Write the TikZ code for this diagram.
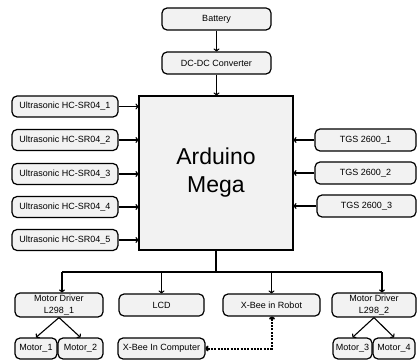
\documentclass[tikz,border=0pt]{standalone}
\usepackage{fontspec}
\setmainfont{Liberation Sans}
\usetikzlibrary{arrows.meta}
\begin{document}
\begin{tikzpicture}[x=1pt,y=-1pt,
  blk/.style={draw=black, line width=1.2pt, fill=boxgray, rounded corners=5pt, inner sep=0pt, font=\fontsize{9}{11.5}\selectfont, align=center},
  conn/.style={line width=1.1pt, -{To[length=3pt,width=6pt]}},
  dconn/.style={line width=2pt, dash pattern=on 2pt off 1.3pt, {To[length=3pt,width=6pt]}-{To[length=3pt,width=6pt]}}
]
\definecolor{boxgray}{HTML}{F2F2F2}
\useasboundingbox (0,0) rectangle (417,363);
% top
\node[blk, minimum width=109pt, minimum height=22pt] (bat) at (216.5,19) {Battery};
\node[blk, minimum width=109pt, minimum height=22pt] (dcdc) at (216.5,63) {DC-DC Converter};
% arduino
\node[draw=black, line width=1.2pt, fill=boxgray, minimum width=154pt, minimum height=154pt, inner sep=0pt, align=center, font=\fontsize{23}{28}\selectfont] (ard) at (216,173) {Arduino\\Mega};
% ultrasonic
\foreach \i/\yy in {1/106.5,2/140,3/174,4/207,5/240}{
  \node[blk, minimum width=106pt, minimum height=21pt] (us\i) at (65,\yy) {Ultrasonic HC-SR04\_\i};
  \draw[conn] (us\i.east) -- (ard.west |- us\i.east);
}
% TGS
\node[blk, minimum width=101pt, minimum height=22pt] (tgs1) at (365.5,140) {TGS 2600\_1};
\node[blk, minimum width=101pt, minimum height=22pt] (tgs2) at (365.5,173) {TGS 2600\_2};
\node[blk, minimum width=99pt, minimum height=22pt] (tgs3) at (366.5,206) {TGS 2600\_3};
\foreach \i in {1,2,3}{
  \draw[conn] (tgs\i.west) -- (ard.east |- tgs\i.west);
}
\draw[conn] (bat) -- (dcdc);
\draw[conn] (dcdc) -- (ard.north -| dcdc.south);
% bottom row
\node[blk, minimum width=88pt, minimum height=24pt] (md1) at (59,305) {Motor Driver\\L298\_1};
\node[blk, minimum width=85pt, minimum height=22pt] (lcd) at (161.5,305) {LCD};
\node[blk, minimum width=97pt, minimum height=22pt] (xbr) at (271.5,305) {X-Bee in Robot};
\node[blk, minimum width=84pt, minimum height=24pt] (md2) at (374,305) {Motor Driver\\L298\_2};
% motors
\node[blk, minimum width=42pt, minimum height=21pt] (m1) at (36,348.5) {Motor\_1};
\node[blk, minimum width=45pt, minimum height=21pt] (m2) at (80.5,348.5) {Motor\_2};
\node[blk, minimum width=87pt, minimum height=21pt] (xbc) at (161.5,348.5) {X-Bee In Computer};
\node[blk, minimum width=39pt, minimum height=21pt] (m3) at (352.5,348.5) {Motor\_3};
\node[blk, minimum width=42pt, minimum height=21pt] (m4) at (394,348.5) {Motor\_4};
% bus
\coordinate (bus) at (216,272);
\coordinate (bl) at (62,272);
\coordinate (br) at (382,272);
\draw[line width=1.1pt] (ard.south -| bus) -- (bus);
\draw[line width=1.1pt] (bl) -- (br);
\draw[conn] (bl) -- (md1.north -| bl);
\draw[conn] (lcd.north |- bus) -- (lcd.north);
\draw[conn] (xbr.north |- bus) -- (xbr.north);
\draw[conn] (br) -- (md2.north -| br);
% motor arrows
\draw[conn] (md1.south) -- (m1.north);
\draw[conn] (md1.south) -- (m2.north);
\draw[conn] (md2.south) -- (m3.north);
\draw[conn] (md2.south) -- (m4.north);
% dotted link
\coordinate (corner) at (272,348.5);
\draw[dconn] (xbc.east) -- (corner) -- (xbr.south -| corner);
\end{tikzpicture}
\end{document}
